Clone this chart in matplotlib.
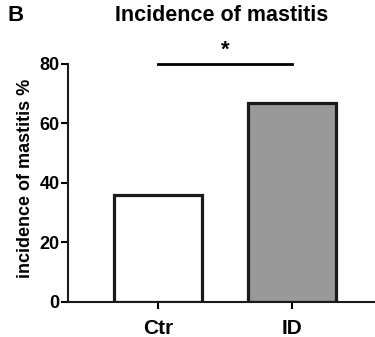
import matplotlib
matplotlib.use("Agg")
import matplotlib.pyplot as plt

plt.rcParams["font.family"] = ["Liberation Sans", "DejaVu Sans"]
plt.rcParams["font.weight"] = "bold"

groups = ["Ctr", "ID"]
incidence = [36, 67]
bar_colors = ["white", "#999999"]
sig_label = "*"
sig_level = 80

fig = plt.figure(figsize=(3.75, 3.37), dpi=100)
ax = fig.add_axes([0.1813, 0.1039, 0.8187, 0.7062])

x = range(len(groups))
ax.bar(x, incidence, width=0.657, color=bar_colors, edgecolor="#1a1a1a", linewidth=2.3)

ax.set_xlim(-0.672, 1.62)
ax.set_ylim(0, 80)
ax.set_yticks([0, 20, 40, 60, 80])
ax.set_xticks(list(x))
ax.set_xticklabels(groups, fontsize=15, fontweight="bold")
ax.tick_params(axis="y", labelsize=13, width=1.5, length=5, pad=1)
ax.tick_params(axis="x", width=1.5, length=5, pad=7)
for lab in ax.get_yticklabels():
    lab.set_fontweight("bold")

for side in ["top", "right"]:
    ax.spines[side].set_visible(False)
for side in ["left", "bottom"]:
    ax.spines[side].set_linewidth(1.5)
    ax.spines[side].set_color("#1a1a1a")

ax.set_ylabel("incidence of mastitis %", fontsize=13, fontweight="bold")
ax.yaxis.set_label_coords(-0.112, 0.52)

# significance bar
ax.plot([0, 1], [sig_level, sig_level], color="black", linewidth=2, clip_on=False)
ax.text(0.5, sig_level + 1.2, sig_label, ha="center", va="bottom", fontsize=16, fontweight="bold")

fig.text(0.019, 0.955, "B", fontsize=16, fontweight="bold", va="center", ha="left")
fig.text(0.59, 0.955, "Incidence of mastitis", fontsize=15.5, fontweight="bold", va="center", ha="center")

fig.savefig("out.png", dpi=100)
